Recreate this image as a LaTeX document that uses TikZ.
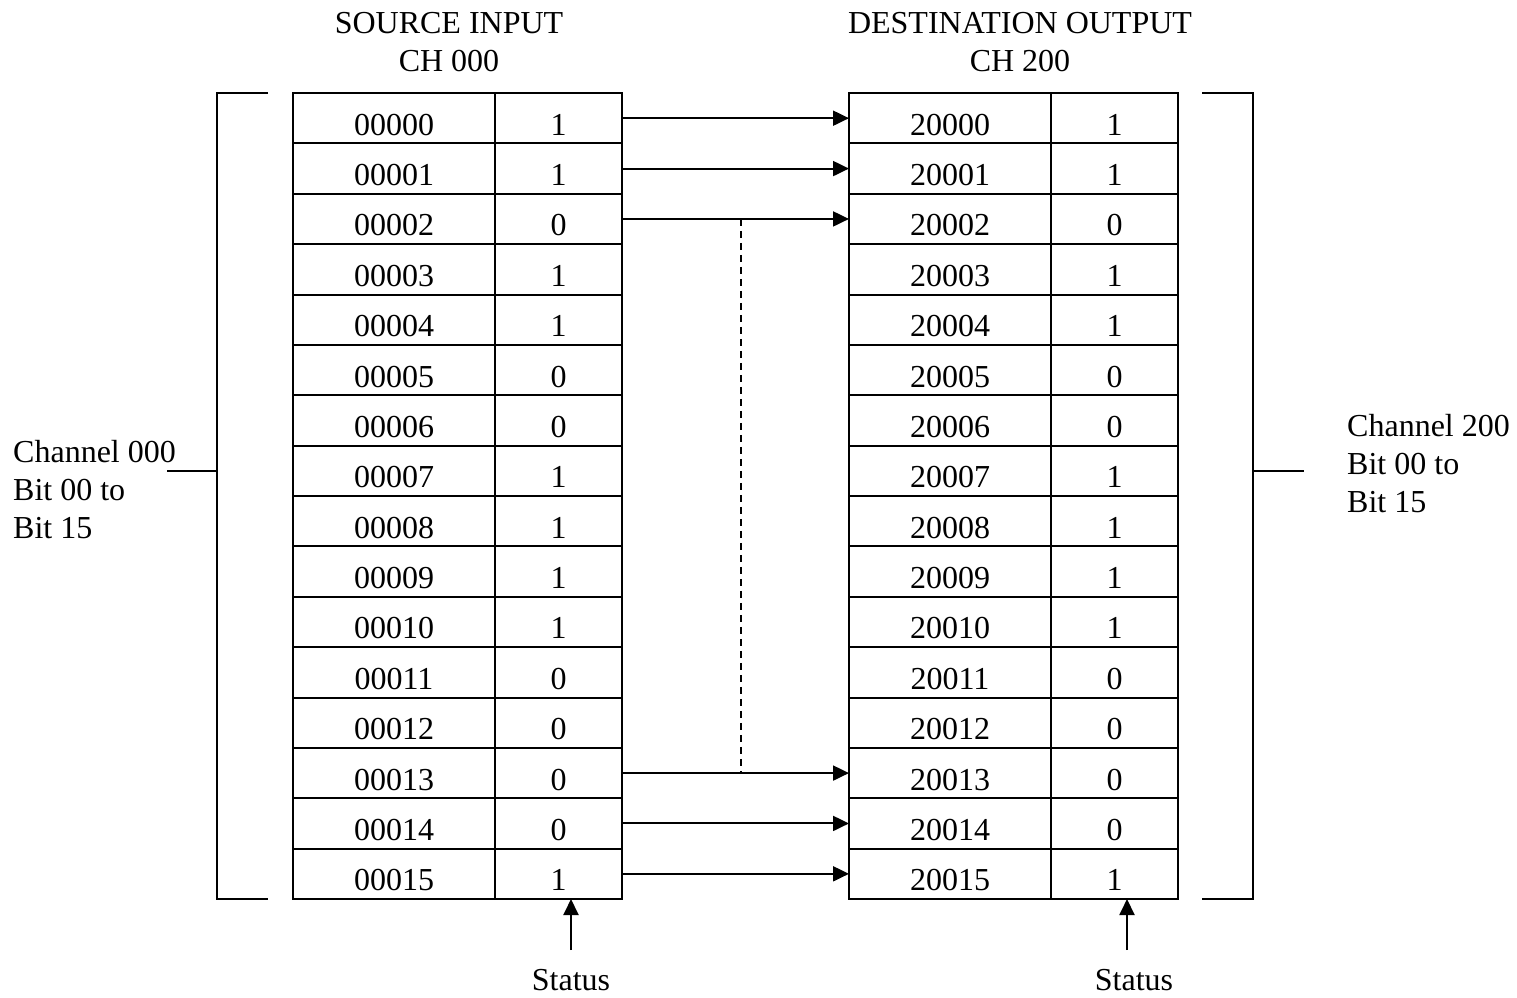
\documentclass[tikz,border=0pt]{standalone}
\usepackage{fontspec}
\setmainfont{Liberation Serif}
\usetikzlibrary{arrows.meta}
\begin{document}
\begin{tikzpicture}[x=1pt,y=-1pt,
  every node/.style={font=\fontsize{32}{38}\selectfont},
  cellA/.style={draw,line width=2pt,minimum width=202pt,minimum height=50.375pt,
    text height=34pt,text depth=0pt,inner sep=0pt,outer sep=0pt},
  cellB/.style={cellA,minimum width=127pt},
  link/.style={line width=2pt,-{Triangle[length=16pt,width=15pt]}},
  bracketline/.style={line width=2pt},
  dashline/.style={line width=2pt,dash pattern=on 7pt off 5pt},
  lbl/.style={anchor=base,inner sep=0pt},
  lblw/.style={anchor=base west,inner sep=0pt}
]
\useasboundingbox (0,0) rectangle (1517,997);

% headers
\node[lbl] (h1) at (449,33) {SOURCE INPUT};
\node[lbl] (h2) at (449,71) {CH 000};
\node[lbl] (h3) at (1020,33) {DESTINATION OUTPUT};
\node[lbl] (h4) at (1020,71) {CH 200};

% tables
\foreach \v [count=\i from 0] in {1,1,0,1,1,0,0,1,1,1,1,0,0,0,0,1} {
  \pgfmathsetmacro\yc{93+(\i+0.5)*50.375}
  \node[cellA] (sa\i) at (394,\yc) {000\ifnum\i<10 0\fi\i};
  \node[cellB] (sb\i) at (558.5,\yc) {\v};
  \node[cellA] (da\i) at (950,\yc) {200\ifnum\i<10 0\fi\i};
  \node[cellB] (db\i) at (1114.5,\yc) {\v};
}

% connectors
\foreach \i in {0,1,2,13,14,15} {
  \draw[link] (sb\i.east) -- (da\i.west);
}
\coordinate (mid) at (741,0);
\draw[dashline] (sb2.east -| mid) -- (sb13.east -| mid);

% brackets
\draw[bracketline] (268,93) -- (217,93) -- (217,899) -- (268,899);
\draw[bracketline] (217,470.5) -- (167,470.5);
\draw[bracketline] (1202,93) -- (1253,93) -- (1253,899) -- (1202,899);
\draw[bracketline] (1253,470.5) -- (1304,470.5);

% channel labels
\node[lblw] (c1) at (13,462) {Channel 000};
\node[lblw] (c2) at (13,500) {Bit 00 to};
\node[lblw] (c3) at (13,538) {Bit 15};
\node[lblw] (c4) at (1347,436) {Channel 200};
\node[lblw] (c5) at (1347,474) {Bit 00 to};
\node[lblw] (c6) at (1347,512) {Bit 15};

% status
\node[lbl] (st1) at (571,990) {Status};
\node[lbl] (st2) at (1134,990) {Status};
\coordinate (s1) at (571,950);
\coordinate (s2) at (1127,950);
\draw[link] (s1) -- (sb15.south -| s1);
\draw[link] (s2) -- (db15.south -| s2);
\end{tikzpicture}
\end{document}
